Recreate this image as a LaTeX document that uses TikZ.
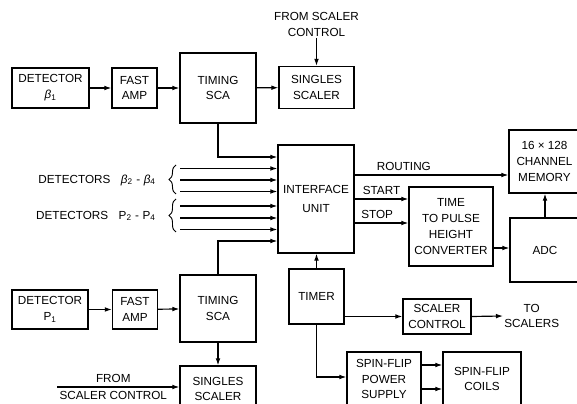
\documentclass[tikz,border=0pt]{standalone}
\usepackage{fontspec}
\setmainfont{Liberation Sans}
\usetikzlibrary{arrows.meta,decorations.pathreplacing}

\begin{document}
\begin{tikzpicture}[
  x=0.03cm, y=-0.03cm,
  font=\fontsize{10}{13.5}\selectfont,
  blk/.style={rectangle, draw, line width=1pt,
    align=center, inner sep=0pt},
  lbl/.style={align=center, inner sep=1pt},
  arrow/.style={-{Latex[length=6pt,width=4pt]}, line width=1pt},
  brc/.style={decorate, decoration={brace, amplitude=6pt}, line width=0.8pt}
]
\useasboundingbox (0,0) rectangle (577,404);

% beta_1 chain
\node[blk, minimum width=2.31cm, minimum height=1.2cm]  (det1) at (50.5,88) {DETECTOR\\ \textit{β}\textsubscript{1}};
\node[blk, minimum width=1.35cm, minimum height=1.2cm]  (amp1) at (134.5,88) {FAST\\ AMP};
\node[blk, minimum width=2.28cm, minimum height=2.1cm]  (sca1) at (218,88) {TIMING\\ SCA};
\node[blk, minimum width=2.25cm, minimum height=1.26cm] (ss1)  at (316.5,87.5) {SINGLES\\ SCALER};
\node[lbl] (from1) at (316.5,24.5) {FROM SCALER\\ CONTROL};

% P_1 chain
\node[blk, minimum width=2.28cm, minimum height=1.17cm] (det2) at (50,309.5) {DETECTOR\\ P\textsubscript{1}};
\node[blk, minimum width=1.35cm, minimum height=1.17cm] (amp2) at (135,309.5) {FAST\\ AMP};
\node[blk, minimum width=2.28cm, minimum height=2.01cm] (sca2) at (218,308.5) {TIMING\\ SCA};
\node[blk, minimum width=2.28cm, minimum height=1.38cm] (ss2)  at (218,389) {SINGLES\\ SCALER};

% centre and right
\node[blk, minimum width=2.28cm, minimum height=3.24cm] (iface) at (316,199) {INTERFACE\\[3pt] UNIT};
\node[blk, minimum width=2.13cm, minimum height=1.89cm] (mem)   at (544.5,161.5) {16 × 128\\ CHANNEL\\ MEMORY};
\node[blk, minimum width=2.52cm, minimum height=2.37cm] (tphc)  at (451,226.5) {TIME\\ TO PULSE\\ HEIGHT\\ CONVERTER};
\node[blk, minimum width=2.10cm, minimum height=1.92cm] (adc)   at (545,250) {ADC};
\node[blk, minimum width=1.65cm, minimum height=1.65cm] (timer) at (316.5,296.5) {TIMER};
\node[blk, minimum width=2.04cm, minimum height=1.05cm] (sctl)  at (437,316.5) {SCALER\\ CONTROL};
\node[lbl, anchor=west] (tosc) at (503,316) {TO\\ SCALERS};
\node[blk, minimum width=2.22cm, minimum height=1.62cm] (sfps)  at (384,379) {SPIN-FLIP\\ POWER\\ SUPPLY};
\node[blk, minimum width=2.34cm, minimum height=1.62cm] (sfc)   at (482,379) {SPIN-FLIP\\ COILS};

% detector groups
\node[lbl, anchor=east] (grpb) at (157,180) {DETECTORS\hspace{9pt}\textit{β}\textsubscript{2}\hspace{3pt}-\hspace{3pt}\textit{β}\textsubscript{4}};
\node[lbl, anchor=east] (grpp) at (157,216) {DETECTORS\hspace{9pt}P\textsubscript{2}\hspace{3pt}-\hspace{3pt}P\textsubscript{4}};
\draw[brc] (176,194) -- (176,165);
\draw[brc] (176,232) -- (176,199);

\draw[arrow] (det1) -- (amp1);
\draw[arrow] (amp1) -- (sca1);
\draw[arrow] (sca1) -- (ss1);
\draw[arrow] (from1.south) -- (ss1.north);
\draw[arrow] (det2) -- (amp2);
\draw[arrow] (amp2) -- (sca2);
\draw[arrow] (sca2) -- (ss2);

\draw[arrow] (sca1.south) |- (iface.west |- 0,157);
\draw[arrow] (sca2.north) |- (iface.west |- 0,241);
\foreach \y [count=\i] in {168.5,180,191.5,206,218,229.5} {
  \coordinate (in\i) at (180,\y);
  \draw[arrow] (in\i) -- (iface.west |- in\i);
}

\coordinate (fsc) at (57,387);
\draw[arrow] (fsc) -- node[above, pos=0.46]{FROM} node[below, pos=0.46]{SCALER CONTROL} (ss2.west |- fsc);

\draw[arrow] (iface.east |- 0,175) -- node[above, pos=0.32]{ROUTING} (mem.west |- 0,175);
\draw[arrow] (iface.east |- 0,199) -- node[above]{START} (tphc.west |- 0,199);
\draw[arrow] (iface.east |- 0,223) -- node[above, pos=0.42]{STOP} (tphc.west |- 0,223);
\draw[arrow] (tphc.east |- 0,248) -- (adc.west |- 0,248);
\draw[arrow] (adc.north) -- (adc.north |- mem.south);

\draw[arrow] (timer.north) -- (timer.north |- iface.south);
\draw[arrow] (timer.east |- sctl.west) -- (sctl.west);
\draw[arrow] (sctl.east) -- (tosc.west);
\draw[arrow] (timer.south) |- (sfps.west |- 0,377);
\foreach \y in {365,389} { \draw[arrow] (sfps.east |- 0,\y) -- (sfc.west |- 0,\y); }
\end{tikzpicture}
\end{document}
